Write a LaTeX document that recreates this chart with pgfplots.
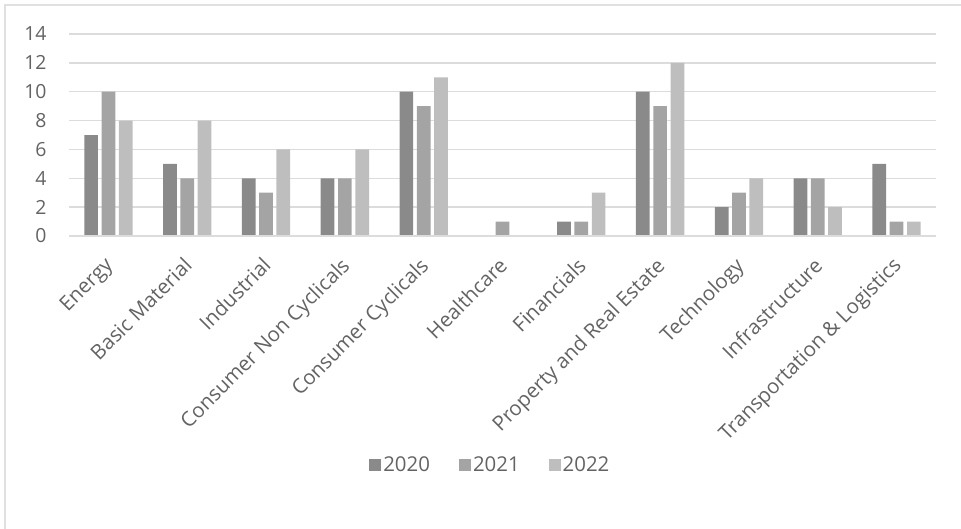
\documentclass[border=0pt]{standalone}
\usepackage{fontspec}
\setmainfont{Open Sans}
\usepackage{pgfplots}
\pgfplotsset{compat=1.18}
\definecolor{cA}{HTML}{8A8A8A}
\definecolor{cB}{HTML}{A4A4A4}
\definecolor{cC}{HTML}{BEBEBE}
\definecolor{grid}{HTML}{DCDCDC}
\definecolor{txt}{HTML}{636363}
\begin{document}
\begin{tikzpicture}
\useasboundingbox (-69bp,-293bp) rectangle (892bp,236bp);
\draw[color=black!12, line width=1.5bp] (-64bp,-293bp) -- (-64bp,231bp) -- (892bp,231bp);
\begin{axis}[
  at={(0,0)}, anchor=south west,
  scale only axis, width=867bp, height=202bp,
  ybar=3.6bp, bar width=13.7bp,
  xmin=-0.5, xmax=10.5, ymin=0, ymax=14,
  ytick={0,2,...,14},
  xtick={0,...,10},
  xticklabels={Energy, Basic Material, Industrial, Consumer Non Cyclicals, Consumer Cyclicals, Healthcare, Financials, Property and Real Estate, Technology, Infrastructure, Transportation \& Logistics},
  /pgf/number format/assume math mode=true,
  axis line style={draw=none},
  major tick length=0pt,
  ymajorgrids, grid style={color=grid, line width=1.3bp},
  yticklabel style={font=\fontsize{19.5}{22}\selectfont, text=txt, xshift=-19bp},
  xticklabel style={font=\fontsize{20.5}{23}\selectfont, text=txt, xshift=-5bp, yshift=-20bp, rotate=45, anchor=north east, inner sep=0pt},
  legend style={at={(0.486,-1.134)}, anchor=center, draw=none, fill=none, legend columns=-1, font=\fontsize{20.5}{23}\selectfont, text=txt, /tikz/every even column/.append style={column sep=27bp}},
  legend image code/.code={\fill[#1] (0bp,-6bp) rectangle (12bp,6bp);},
  clip=false,
]
\addplot[fill=cA, draw=none] coordinates {(0,7) (1,5) (2,4) (3,4) (4,10) (5,0) (6,1) (7,10) (8,2) (9,4) (10,5)};
\addplot[fill=cB, draw=none] coordinates {(0,10) (1,4) (2,3) (3,4) (4,9) (5,1) (6,1) (7,9) (8,3) (9,4) (10,1)};
\addplot[fill=cC, draw=none] coordinates {(0,8) (1,8) (2,6) (3,6) (4,11) (5,0) (6,3) (7,12) (8,4) (9,2) (10,1)};
\draw[color=grid, line width=1.3bp] (rel axis cs:0,0) -- (rel axis cs:1,0);
\legend{2020, 2021, 2022}
\end{axis}
\end{tikzpicture}
\end{document}
